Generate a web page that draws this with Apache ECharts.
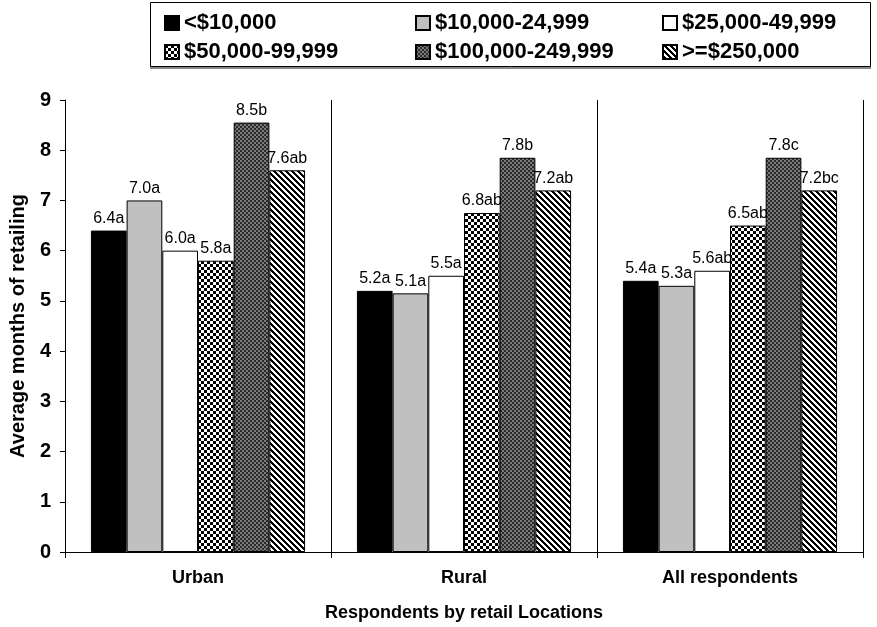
<!DOCTYPE html>
<html>
<head>
<meta charset="utf-8">
<script src="https://cdn.jsdelivr.net/npm/echarts@6/dist/echarts.min.js"></script>
<style>
  html, body { margin: 0; padding: 0; background: #fff; }
  #chart { width: 877px; height: 627px; }
</style>
</head>
<body>
<div id="chart"></div>
<script>
// categories and income groups
const categories = ['Urban', 'Rural', 'All respondents'];
const groups = ['<$10,000', '$10,000-24,999', '$25,000-49,999', '$50,000-99,999', '$100,000-249,999', '>=$250,000'];

// average months per group (bar heights), one value per category
const lessThan10k = [6.4, 5.2, 5.4];
const from10kTo25k = [7.0, 5.15, 5.3];
const from25kTo50k = [6.0, 5.5, 5.6];
const from50kTo100k = [5.8, 6.75, 6.5];
const from100kTo250k = [8.55, 7.85, 7.85];
const over250k = [7.6, 7.2, 7.2];

// printed labels above the bars (value + significance letters)
const lessThan10kLbl = ['6.4a', '5.2a', '5.4a'];
const from10kTo25kLbl = ['7.0a', '5.1a', '5.3a'];
const from25kTo50kLbl = ['6.0a', '5.5a', '5.6ab'];
const from50kTo100kLbl = ['5.8a', '6.8ab', '6.5ab'];
const from100kTo250kLbl = ['8.5b', '7.8b', '7.8c'];
const over250kLbl = ['7.6ab', '7.2ab', '7.2bc'];

const yTicks = [0, 1, 2, 3, 4, 5, 6, 7, 8, 9];

const FONT = 'Liberation Sans, Arial, sans-serif';

// little canvas patterns for the filled bars
function makePattern(size, draw) {
  let c = document.createElement('canvas');
  c.width = size;
  c.height = size;
  let ctx = c.getContext('2d');
  draw(ctx, size);
  return { image: c, repeat: 'repeat' };
}

const checkerFill = makePattern(6, (ctx, s) => {
  ctx.fillStyle = '#fff';
  ctx.fillRect(0, 0, s, s);
  ctx.fillStyle = '#000';
  ctx.fillRect(0, 0, 3, 3);
  ctx.fillRect(3, 3, 3, 3);
});

const darkFill = makePattern(4, (ctx, s) => {
  ctx.fillStyle = '#2b2b2b';
  ctx.fillRect(0, 0, s, s);
  ctx.fillStyle = '#7a7a7a';
  ctx.fillRect(0, 0, 2, 2);
  ctx.fillRect(2, 2, 2, 2);
});

const diagFill = makePattern(6, (ctx, s) => {
  ctx.fillStyle = '#fff';
  ctx.fillRect(0, 0, s, s);
  ctx.fillStyle = '#000';
  for (let y = 0; y < s; y++) {
    for (let x = 0; x < s; x++) {
      if (((x - y) % s + s) % s < 3) ctx.fillRect(x, y, 1, 1);
    }
  }
});

const seriesValues = [lessThan10k, from10kTo25k, from25kTo50k, from50kTo100k, from100kTo250k, over250k];
const seriesLabels = [lessThan10kLbl, from10kTo25kLbl, from25kTo50kLbl, from50kTo100kLbl, from100kTo250kLbl, over250kLbl];
const fills = ['#000000', '#c0c0c0', '#ffffff', checkerFill, darkFill, diagFill];

let myChart = echarts.init(document.getElementById('chart'), null, { renderer: 'canvas' });

let series = groups.map((name, i) => ({
  name: name,
  type: 'bar',
  data: seriesValues[i],
  barGap: 0,
  barCategoryGap: '19.5%',
  itemStyle: {
    color: fills[i],
    borderColor: '#000',
    borderWidth: 1
  },
  label: {
    show: true,
    position: 'top',
    distance: 4,
    color: '#000',
    fontFamily: FONT,
    fontSize: 16,
    formatter: (p) => seriesLabels[i][p.dataIndex]
  }
}));

// legend: three columns of two entries
let legendCol = (items, left) => ({
  orient: 'vertical',
  left: left,
  top: 7,
  itemWidth: 14,
  itemHeight: 14,
  itemGap: 7,
  icon: 'rect',
  data: items,
  textStyle: {
    fontFamily: FONT,
    fontWeight: 'bold',
    fontSize: 22,
    color: '#000'
  },
  selectedMode: false
});

let option = {
  animation: false,
  backgroundColor: '#fff',
  graphic: [
    {
      type: 'rect',
      shape: { x: 150.5, y: 2.5, width: 720, height: 64 },
      style: { fill: 'none', stroke: '#000', lineWidth: 1 },
      z: 0
    },
    {
      type: 'line',
      shape: { x1: 150, y1: 68, x2: 871, y2: 68 },
      style: { stroke: '#888', lineWidth: 2 },
      z: 0
    }
  ],
  legend: [
    legendCol([groups[0], groups[3]], 159),
    legendCol([groups[1], groups[4]], 410),
    legendCol([groups[2], groups[5]], 657)
  ],
  grid: {
    left: 65,
    right: 14,
    top: 100,
    bottom: 74
  },
  xAxis: {
    type: 'category',
    data: categories,
    name: 'Respondents by retail Locations',
    nameLocation: 'middle',
    nameGap: 52,
    nameTextStyle: { fontFamily: FONT, fontWeight: 'bold', fontSize: 18, color: '#000' },
    axisLine: { lineStyle: { color: '#000', width: 1 } },
    axisTick: { show: true, length: 6, lineStyle: { color: '#000' } },
    splitLine: { show: true, lineStyle: { color: '#000', width: 1 } },
    axisLabel: { fontFamily: FONT, fontWeight: 'bold', fontSize: 18, color: '#000', margin: 17 }
  },
  yAxis: {
    type: 'value',
    min: yTicks[0],
    max: yTicks[yTicks.length - 1],
    interval: 1,
    name: 'Average months of retailing',
    nameLocation: 'middle',
    nameGap: 31,
    nameTextStyle: { fontFamily: FONT, fontWeight: 'bold', fontSize: 20, color: '#000' },
    axisLine: { show: true, lineStyle: { color: '#000', width: 1 } },
    axisTick: { show: true, length: 5, lineStyle: { color: '#000' } },
    splitLine: { show: false },
    axisLabel: { fontFamily: FONT, fontWeight: 'bold', fontSize: 20, color: '#000', margin: 14 }
  },
  series: series
};

myChart.setOption(option);
</script>
</body>
</html>
